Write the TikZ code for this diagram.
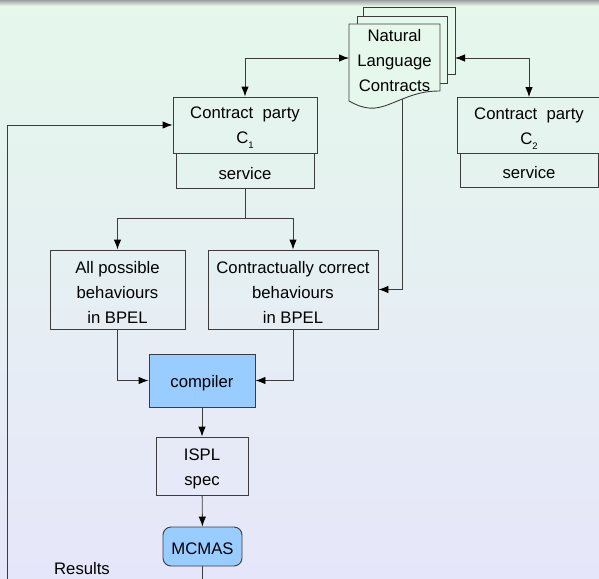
\documentclass[tikz,border=0pt]{standalone}
\usepackage{fontspec}
\setmainfont{Liberation Sans}
\usetikzlibrary{arrows.meta}
\definecolor{bgtop}{RGB}{229,248,235}
\definecolor{bgbot}{RGB}{230,230,250}
\definecolor{boxblue}{RGB}{153,204,255}
\definecolor{linecol}{RGB}{60,60,60}
\newcommand\mysub[1]{\raisebox{-5pt}{\fontsize{9.5}{9.5}\selectfont #1}}
\begin{document}
\begin{tikzpicture}[x=1pt,y=-1pt,
  font=\fontsize{16.7}{25}\selectfont,
  box/.style={draw=linecol, line width=0.9pt, inner sep=0pt},
  lbl/.style={align=center, inner sep=0pt, yshift=-3pt},
  conn/.style={draw=linecol, line width=0.9pt},
  tip/.tip={Latex[length=10pt,width=7.5pt,color=black]},
  arr/.style={conn, -tip},
  dblarr/.style={conn, tip-tip},
  sheet/.style={fill=bgtop, draw=linecol, line width=0.9pt}]
\useasboundingbox (0,0) rectangle (599,578);
\shade[top color=bgtop, bottom color=bgbot] (0,0) rectangle (599,578);
\shade[top color=gray!75, bottom color=bgtop] (0,0) rectangle (599,6);
% document stack
\filldraw[sheet] (363,7) rectangle (455,74);
\filldraw[sheet] (357,16) rectangle (447,83);
\filldraw[sheet] (349,24) -- (440,24) -- (440,91) .. controls (420,91) and (410,96) .. (390,104) .. controls (375,110) and (365,110) .. (349,101) -- cycle;
\node[align=center, inner sep=0pt] (nlc) at (394.5,61) {Natural\\Language\\Contracts};
\coordinate (nlcL) at (349,58);
\coordinate (nlcR) at (455,58);
\coordinate (nlcB) at (402,99);
% parties
\node[box, minimum width=144pt, minimum height=56pt, label={[lbl, name=c1t]center:{Contract~~party\\C\mysub{1}}}] (c1) at (245,125) {};
\node[box, minimum width=138pt, minimum height=35pt, label={[lbl, name=s1t]center:service}] (s1) at (245,170.5) {};
\node[box, minimum width=144pt, minimum height=56pt, label={[lbl, name=c2t]center:{Contract~~party\\C\mysub{2}}}] (c2) at (529,125.5) {};
\node[box, minimum width=138pt, minimum height=34pt, label={[lbl, name=s2t]center:service}] (s2) at (529,170) {};
% behaviours
\node[box, minimum width=135pt, minimum height=79pt, label={[lbl, name=allpt]center:{All possible\\behaviours\\in BPEL}}] (allp) at (117.5,289.5) {};
\node[box, minimum width=170pt, minimum height=79pt, label={[lbl, name=corrt]center:{Contractually correct\\behaviours\\in BPEL}}] (corr) at (293,289.5) {};
\node[box, fill=boxblue, minimum width=106pt, minimum height=53pt, label={[lbl, name=compt]center:compiler}] (comp) at (202,380.5) {};
\node[box, minimum width=92pt, minimum height=58pt, label={[lbl, name=isplt]center:{ISPL\\spec}}] (ispl) at (202,466) {};
\node[box, fill=boxblue, rounded corners=8pt, minimum width=79pt, minimum height=39pt, label={[lbl, name=mcmast, yshift=1pt]center:MCMAS}] (mcmas) at (202.5,546.5) {};
\node[inner sep=0pt] (res) at (82,569) {Results};
% connectors
\draw[dblarr] (c1.north) |- (nlcL);
\draw[dblarr] (c2.north) |- (nlcR);
\coordinate (br) at (245,218);
\draw[conn] (s1.south) -- (br);
\draw[arr] (br) -| (allp.north);
\draw[arr] (br) -| (corr.north);
\draw[arr] (nlcB) |- (corr.east);
\draw[arr] (allp.south) |- (comp.west);
\draw[arr] (corr.south) |- (comp.east);
\draw[arr] (comp) -- (ispl);
\draw[arr] (ispl) -- (mcmas);
\coordinate (fbl) at (7,592);
\draw[arr] (mcmas.south) |- (fbl) |- (c1.west);
\end{tikzpicture}
\end{document}
